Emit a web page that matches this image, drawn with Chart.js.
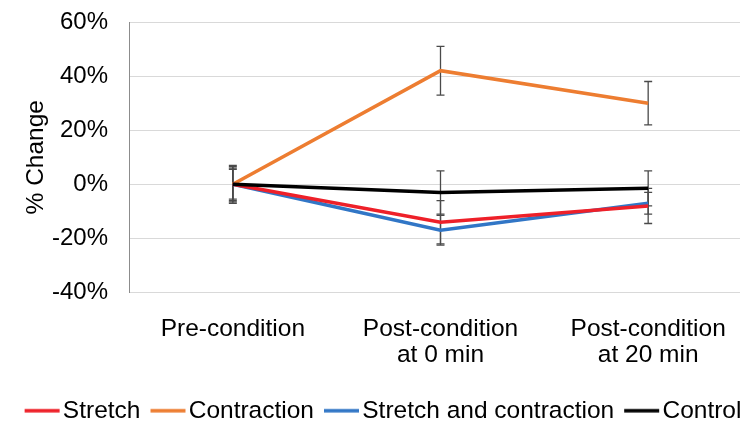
<!DOCTYPE html>
<html>
<head>
<meta charset="utf-8">
<script src="https://cdn.jsdelivr.net/npm/chart.js@4.4.0/dist/chart.umd.min.js"></script>
<style>
  html, body { margin: 0; padding: 0; background: #fff; overflow: hidden; }
  #wrap { width: 752px; height: 421px; position: relative; }
</style>
</head>
<body>
<div id="wrap"><canvas id="mychart"></canvas></div>
<script>

// time points
const categories = [['Pre-condition'], ['Post-condition', 'at 0 min'], ['Post-condition', 'at 20 min']];

// mean % change per group
const stretchVals     = [0, -14, -8];
const contractionVals = [0, 42, 30];
const bothVals        = [0, -17, -7];
const controlVals     = [0, -3, -1.5];

// error bar half-lengths (same units)
const stretchErr     = [6, 8, 6.5];
const contractionErr = [6.5, 9, 8];
const bothErr        = [5.5, 5.5, 4];
const controlErr     = [7, 8, 6.5];

const yTicks = [-40, -20, 0, 20, 40, 60];

const FONT = 'Liberation Sans, Arial, sans-serif';
const FSIZE = 24.5;

// legend swatch: a long line that runs right up to the label text
function swatch(color) {
    const c = document.createElement('canvas');
    c.width = 46;
    c.height = 6;
    const g = c.getContext('2d');
    g.strokeStyle = color;
    g.lineWidth = 3.5;
    g.beginPath();
    g.moveTo(10, 3);
    g.lineTo(45, 3);
    g.stroke();
    return c;
}

// vertical error bars with caps, drawn under the lines
const errorBars = {
    id: 'errorBars',
    beforeDatasetsDraw(chart) {
        const ctx = chart.ctx;
        const yScale = chart.scales.y;
        ctx.save();
        ctx.strokeStyle = '#4A4A4A';
        ctx.lineWidth = 1.3;
        chart.data.datasets.forEach((ds, di) => {
            const meta = chart.getDatasetMeta(di);
            ds.data.forEach((v, i) => {
                const x = meta.data[i].x;
                const yTop = yScale.getPixelForValue(v + ds.errors[i]);
                const yBot = yScale.getPixelForValue(v - ds.errors[i]);
                ctx.beginPath();
                ctx.moveTo(x, yTop);
                ctx.lineTo(x, yBot);
                ctx.moveTo(x - 4, yTop);
                ctx.lineTo(x + 4, yTop);
                ctx.moveTo(x - 4, yBot);
                ctx.lineTo(x + 4, yBot);
                ctx.stroke();
            });
        });
        ctx.restore();
    }
};

const ctx = document.getElementById('mychart').getContext('2d');

const lineChart = new Chart(ctx,
{
    type : 'line',
    plugins : [errorBars],
    data :
    {
        labels : categories,
        datasets :
        [
            { label : 'Stretch', data : stretchVals, errors : stretchErr, borderWidth : 3.5,
              borderColor : '#EE2029', backgroundColor : '#EE2029', order : 1 },
            { label : 'Contraction', data : contractionVals, errors : contractionErr, borderWidth : 3.5,
              borderColor : '#ED7D31', backgroundColor : '#ED7D31', order : 3 },
            { label : 'Stretch and contraction', data : bothVals, errors : bothErr, borderWidth : 3.5,
              borderColor : '#3176C6', backgroundColor : '#3176C6', order : 2 },
            { label : 'Control', data : controlVals, errors : controlErr, borderWidth : 3.5,
              borderColor : '#000000', backgroundColor : '#000000', order : 0 },
        ]
    },
    options :
    {
        responsive : true,
        maintainAspectRatio : false,
        animation : false,
        elements :
        {
            line : { tension : 0 },
            point : { radius : 0, hoverRadius : 0 },
        },
        layout :
        {
            autoPadding : false,
            padding : { top : 22, bottom : -12, left : 14, right : 0 }
        },
        scales :
        {
            x :
            {
                offset : true,
                afterFit : (scale) => { scale.height = 96; },
                grid : { display : false, drawTicks : false },
                border : { display : false },
                ticks :
                {
                    color : '#000',
                    padding : 24,
                    maxRotation : 0,
                    font : { family : FONT, size : FSIZE, lineHeight : 1.06 },
                },
            },
            y :
            {
                min : -40,
                max : 60,
                afterBuildTicks : (scale) => { scale.ticks = yTicks.map(v => ({ value : v })); },
                afterFit : (scale) => { scale.width = 115; },
                // invisible tick marks keep the labels clear of the axis line
                grid : { color : '#D9D9D9', lineWidth : 1, drawTicks : true, tickLength : 20, tickColor : 'rgba(0,0,0,0)' },
                border : { display : true, color : '#8C8C8C', width : 1 },
                ticks :
                {
                    color : '#000',
                    padding : 1,
                    font : { family : FONT, size : 24 },
                    callback : (v) => v + '%',
                },
                title :
                {
                    display : true,
                    text : '% Change',
                    color : '#000',
                    padding : { top : 8, bottom : 0 },
                    font : { family : FONT, size : FSIZE },
                },
            },
        },
        plugins :
        {
            legend :
            {
                display : true,
                position : 'bottom',
                labels :
                {
                    color : '#000',
                    usePointStyle : true,
                    pointStyleWidth : 26,
                    padding : 10,
                    font : { family : FONT, size : FSIZE, lineHeight : 1.0 },
                    generateLabels : (chart) =>
                        Chart.defaults.plugins.legend.labels.generateLabels(chart)
                            .sort((a, b) => a.datasetIndex - b.datasetIndex)
                            .map(item => {
                                item.pointStyle = swatch(chart.data.datasets[item.datasetIndex].borderColor);
                                return item;
                            }),
                },
            },
            tooltip : { enabled : false },
        },
    }
});
</script>
</body>
</html>
